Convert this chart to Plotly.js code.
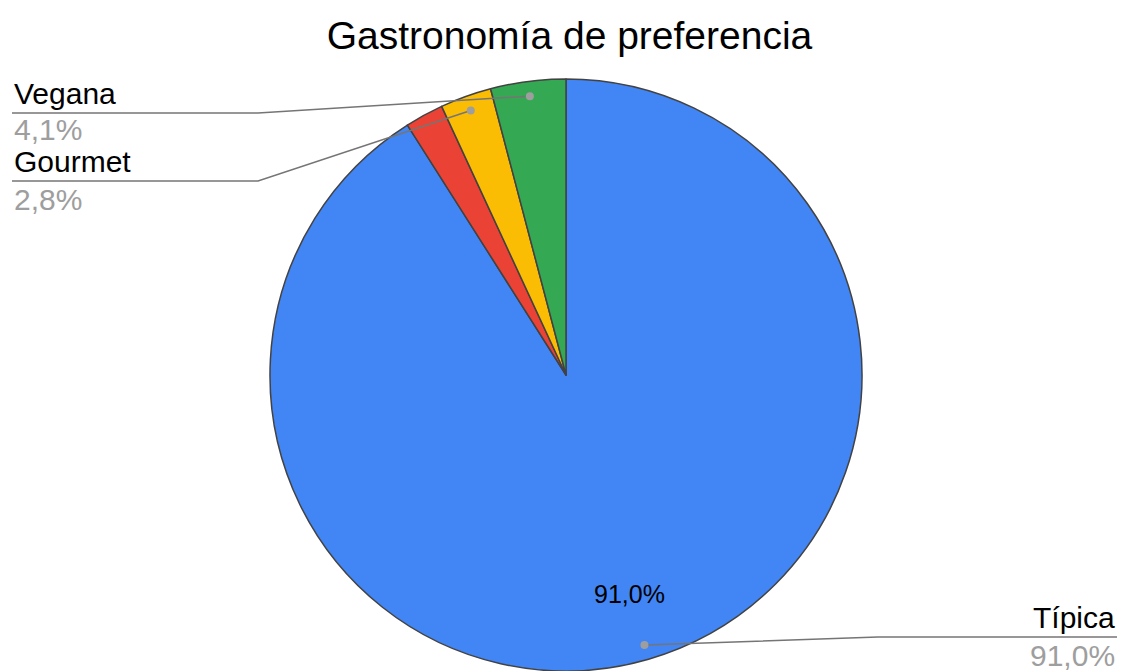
<!DOCTYPE html>
<html>
<head>
<meta charset="utf-8">
<script src="https://cdn.plot.ly/plotly-3.0.1.min.js"></script>
<style>html,body{margin:0;padding:0;background:#fff;}#chart{width:1122px;height:671px;}</style>
</head>
<body>
<div id="chart"></div>
<script>
// Data
const categories = ['Típica', 'Otra', 'Gourmet', 'Vegana'];
const values = [91.0, 2.1, 2.8, 4.1];
const colors = ['#4285F4', '#EA4335', '#FBBC04', '#34A853'];
const labeledCategories = ['Típica', 'Gourmet', 'Vegana'];
const chartTitle = 'Gastronomía de preferencia';

// Layout geometry
const W = 1122, H = 671;
const M = {l: 10, r: 0, t: 79, b: 0};
const plotW = W - M.l - M.r, plotH = H - M.t - M.b;
const R = Math.min(plotW, plotH) / 2;
const CX = M.l + plotW / 2, CY = M.t + plotH / 2;
const FONT = 'Arial, "Liberation Sans", sans-serif';

function px2paperX(px) { return (px - M.l) / plotW; }
function px2paperY(py) { return 1 - (py - M.t) / plotH; }
function fmtPct(v) { return v.toFixed(1).replace('.', ',') + '%'; }

const total = values.reduce((a, b) => a + b, 0);
// clockwise from 12 o'clock
let cum = 0;
const mids = values.map(v => { const a0 = cum; cum += v; return ((a0 + v / 2) / total) * 2 * Math.PI; });
function pointAt(i, rf) {
  const a = mids[i];
  return [CX + Math.sin(a) * R * rf, CY - Math.cos(a) * R * rf];
}

// label placement (layout only)
const labelPos = {
  'Vegana':  {side: 'left',  lineY: 113, lineX0: 12,  lineX1: 258, nameY: 93,  pctY: 129},
  'Gourmet': {side: 'left',  lineY: 181, lineX0: 12,  lineX1: 258, nameY: 161, pctY: 199},
  'Típica':  {side: 'right', lineY: 637, lineX0: 878, lineX1: 1117, nameY: 617, pctY: 655}
};

const annotations = [];
const shapes = [];
labeledCategories.forEach(name => {
  const i = categories.indexOf(name);
  const p = labelPos[name];
  const pct = values[i] / total * 100;
  const dot = pointAt(i, 0.95);
  const elbowX = p.side === 'left' ? p.lineX1 : p.lineX0;
  const endX = p.side === 'left' ? p.lineX0 : p.lineX1;
  const textX = p.side === 'left' ? p.lineX0 : p.lineX1;
  shapes.push({type: 'path', xref: 'paper', yref: 'paper',
    path: `M ${px2paperX(endX)} ${px2paperY(p.lineY)} L ${px2paperX(elbowX)} ${px2paperY(p.lineY)} L ${px2paperX(dot[0])} ${px2paperY(dot[1])}`,
    line: {color: '#757575', width: 1.5}});
  shapes.push({type: 'circle', xref: 'paper', yref: 'paper', xsizemode: 'pixel', ysizemode: 'pixel',
    xanchor: px2paperX(dot[0]), yanchor: px2paperY(dot[1]), x0: -4, x1: 4, y0: -4, y1: 4,
    fillcolor: '#9E9E9E', line: {width: 0}});
  annotations.push({xref: 'paper', yref: 'paper', x: px2paperX(textX), y: px2paperY(p.nameY),
    xanchor: p.side === 'left' ? 'left' : 'right', yanchor: 'middle', showarrow: false,
    text: name, font: {family: FONT, size: 30, color: '#000000'}});
  annotations.push({xref: 'paper', yref: 'paper', x: px2paperX(textX), y: px2paperY(p.pctY),
    xanchor: p.side === 'left' ? 'left' : 'right', yanchor: 'middle', showarrow: false,
    text: fmtPct(pct), font: {family: FONT, size: 30, color: '#9E9E9E'}});
});

// inside label of the largest slice
const big = values.indexOf(Math.max(...values));
const ip = pointAt(big, 0.77);
annotations.push({xref: 'paper', yref: 'paper', x: px2paperX(ip[0]), y: px2paperY(ip[1]),
  xanchor: 'center', yanchor: 'middle', showarrow: false,
  text: fmtPct(values[big] / total * 100), font: {family: FONT, size: 25, color: '#000000'}});

const trace = {
  type: 'pie',
  labels: categories,
  values: values,
  sort: false,
  direction: 'clockwise',
  rotation: 0,
  textinfo: 'none',
  hoverinfo: 'label+percent',
  marker: {colors: colors, line: {color: '#424242', width: 1.5}},
  showlegend: false
};

const layout = {
  width: W, height: H,
  margin: M,
  paper_bgcolor: '#ffffff',
  plot_bgcolor: '#ffffff',
  showlegend: false,
  title: {text: chartTitle, font: {family: FONT, size: 39, color: '#000000'},
    xref: 'container', yref: 'container', x: 569.5 / W, xanchor: 'center',
    y: 1 - 35 / H, yanchor: 'middle'},
  annotations: annotations,
  shapes: shapes
};

Plotly.newPlot('chart', [trace], layout, {displayModeBar: false, staticPlot: true});
</script>
</body>
</html>
